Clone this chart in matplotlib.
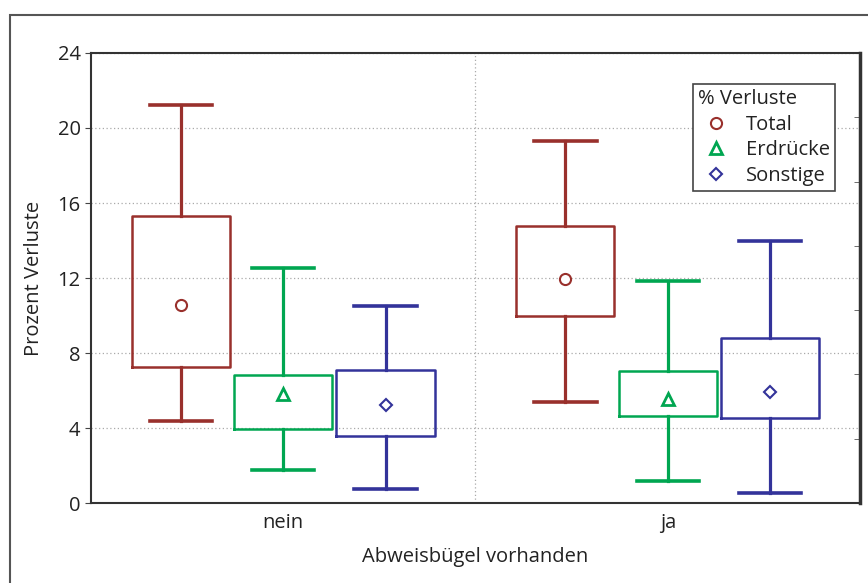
import numpy as np
import matplotlib
matplotlib.use('Agg')
from matplotlib import pyplot as plt
from matplotlib.patches import Rectangle
from matplotlib.ticker import FixedLocator

plt.rcParams['font.family'] = ['Open Sans', 'DejaVu Sans']

# data
groups = ['nein', 'ja']
series = ['Total', 'Erdrücke', 'Sonstige']
colors = ['#99302C', '#00A651', '#33339A']
markers = ['o', '^', 'D']
# per series: [nein, ja]
whislo = [[4.35, 5.4], [1.75, 1.15], [0.75, 0.55]]
q1 = [[7.25, 9.95], [3.95, 4.62], [3.55, 4.55]]
mean = [[10.55, 11.95], [5.8, 5.55], [5.22, 5.92]]
q3 = [[15.3, 14.75], [6.83, 7.02], [7.1, 8.8]]
whishi = [[21.2, 19.3], [12.52, 11.82], [10.52, 14.0]]

fs = 14.5

fig = plt.figure(figsize=(8.68, 5.83), dpi=100)
ax = fig.add_axes([0.1048, 0.1372, 0.886, 0.7719])

# outer frame
fig.patches.append(Rectangle((10/868, -0.1), 1.2, 1 - 15/583 + 0.1, transform=fig.transFigure,
                             fill=False, edgecolor='#555555', lw=1.5))

offset = 0.266
handles = []
for s in range(3):
    stats = []
    for g in range(2):
        stats.append(dict(whislo=whislo[s][g], q1=q1[s][g], med=mean[s][g], mean=mean[s][g],
                          q3=q3[s][g], whishi=whishi[s][g], fliers=[]))
    pos = [0.5 + g + (s - 1) * offset for g in range(2)]
    c = colors[s]
    msize = 8 if markers[s] != 'D' else 6.5
    res = ax.bxp(stats, positions=pos, widths=0.255, capwidths=0.162, showmeans=True,
                 boxprops=dict(color=c, lw=1.8),
                 whiskerprops=dict(color=c, lw=2.3),
                 capprops=dict(color=c, lw=2.6),
                 medianprops=dict(linestyle='none'),
                 meanprops=dict(marker=markers[s], markerfacecolor='white', markeredgecolor=c,
                                markeredgewidth=2 if s == 1 else 1.5, markersize=msize),
                 manage_ticks=False)
    handles.append(res['means'][0])

ax.set_xlim(0, 2)
ax.set_ylim(0, 24)
ax.set_yticks(np.arange(0, 25, 4))
ax.set_xticks([0.5, 1.5])
ax.set_xticklabels(groups)
ax.yaxis.set_minor_locator(FixedLocator([k * 24 / 7 for k in range(1, 7)]))
ax.tick_params(axis='y', which='major', left=True, right=False, length=4, labelsize=fs,
               color='#444444', labelcolor='#222222')
ax.tick_params(axis='y', which='minor', left=False, right=True, direction='in', length=4,
               color='#555555')
ax.tick_params(axis='x', length=0, labelsize=fs, pad=7, labelcolor='#222222')
ax.yaxis.grid(True, which='major', linestyle=(0, (1, 2)), color='#aaaaaa', lw=0.9)
ax.axvline(1, linestyle=(0, (1, 2)), color='#aaaaaa', lw=0.9, zorder=0)
ax.set_axisbelow(True)

for side in ['left', 'top', 'bottom']:
    ax.spines[side].set_color('#333333')
    ax.spines[side].set_linewidth(1.5)
ax.spines['right'].set_color('#333333')
ax.spines['right'].set_linewidth(2.5)

ax.set_ylabel('Prozent Verluste', fontsize=fs, color='#222222', labelpad=10)
ax.set_xlabel('Abweisbügel vorhanden', fontsize=fs, color='#222222', labelpad=10)

leg = ax.legend(handles, series, title='% Verluste', loc='upper left',
                bbox_to_anchor=(693/868, 1 - 84/583), bbox_transform=fig.transFigure,
                fontsize=fs, title_fontsize=fs, frameon=True, fancybox=False,
                edgecolor='#444444', framealpha=1, borderpad=0.25, labelspacing=0.28,
                handlelength=1.8, handletextpad=0.6, borderaxespad=0)
leg._legend_box.align = 'left'
leg.get_frame().set_linewidth(1.2)
for t in leg.get_texts():
    t.set_color('#222222')
leg.get_title().set_color('#222222')

fig.savefig('out.png', dpi=100)
